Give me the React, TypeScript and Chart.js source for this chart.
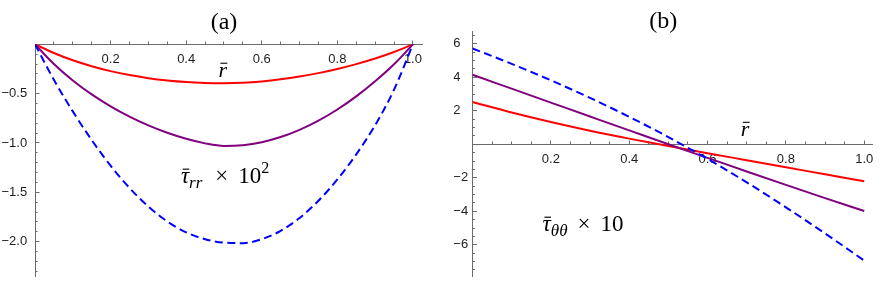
import React, { useEffect, useRef } from "react";
import { Chart, registerables } from "chart.js";

Chart.register(...registerables);

// ---------------- data ----------------
// panel (a): tau_rr x 10^2 versus r-bar
const R_A = [0, 0.05, 0.1, 0.15, 0.2, 0.25, 0.3, 0.35, 0.4, 0.45, 0.5, 0.55, 0.6, 0.65, 0.7, 0.75, 0.8, 0.85, 0.9, 0.95, 1.0];
const TRR_RED = [0, -0.088, -0.162, -0.222, -0.272, -0.312, -0.343, -0.366, -0.382, -0.391, -0.394, -0.389, -0.376, -0.355, -0.327, -0.292, -0.25, -0.201, -0.144, -0.078, 0];
const TRR_PURPLE = [0, -0.2, -0.367, -0.508, -0.629, -0.733, -0.822, -0.897, -0.958, -1.004, -1.03, -1.022, -0.992, -0.94, -0.867, -0.774, -0.661, -0.528, -0.375, -0.203, 0];
const TRR_BLUE = [0, -0.36, -0.68, -0.97, -1.23, -1.455, -1.645, -1.795, -1.905, -1.975, -2.01, -2.015, -1.975, -1.89, -1.76, -1.585, -1.37, -1.115, -0.82, -0.46, 0];

// panel (b): tau_thetatheta x 10 versus r-bar
const R_B = [0, 0.1, 0.2, 0.3, 0.4, 0.5, 0.6, 0.7, 0.8, 0.9, 1.0];
const TTT_RED = [2.52, 1.9, 1.33, 0.81, 0.34, -0.1, -0.53, -0.95, -1.37, -1.79, -2.21];
const TTT_PURPLE = [4.15, 3.32, 2.49, 1.66, 0.83, 0.0, -0.81, -1.62, -2.42, -3.21, -3.98];
const TTT_BLUE = [5.72, 4.8, 3.82, 2.77, 1.64, 0.43, -0.87, -2.27, -3.76, -5.32, -6.94];

// ticks
const X_MAJOR = [0.2, 0.4, 0.6, 0.8, 1.0];
const X_LABELS = ["0.2", "0.4", "0.6", "0.8", "1.0"];
const X_MINOR = [0.05, 0.1, 0.15, 0.25, 0.3, 0.35, 0.45, 0.5, 0.55, 0.65, 0.7, 0.75, 0.85, 0.9, 0.95];

const YA_MAJOR = [-0.5, -1.0, -1.5, -2.0];
const YA_LABELS = ["\u22120.5", "\u22121.0", "\u22121.5", "\u22122.0"];
const YA_MINOR = [-0.1, -0.2, -0.3, -0.4, -0.6, -0.7, -0.8, -0.9, -1.1, -1.2, -1.3, -1.4, -1.6, -1.7, -1.8, -1.9, -2.1, -2.2, -2.3];

const YB_MAJOR = [6, 4, 2, -2, -4, -6];
const YB_LABELS = ["6", "4", "2", "\u22122", "\u22124", "\u22126"];
const YB_MINOR = [6.5, 5.5, 5, 4.5, 3.5, 3, 2.5, 1.5, 1, 0.5, -0.5, -1, -1.5, -2.5, -3, -3.5, -4.5, -5, -5.5, -6.5, -7, -7.5];

// ---------------- styling ----------------
const RED = "#ff0000";
const PURPLE = "#800080";
const BLUE = "#0000ff";
const AXIS = "#6b6b6b";
const LABEL = "#1e1e1e";
const SERIF = "'Liberation Serif', 'Times New Roman', serif";
const SANS = "'Liberation Sans', Arial, sans-serif";

type Seg = { t: string; size: number; italic?: boolean; dy?: number; gap?: number; bar?: boolean };
type TextItem = { x: number; y: number; align: "left" | "center"; segs: Seg[] };

const segFont = (s: Seg) => `${s.italic ? "italic " : ""}${s.size}px ${SERIF}`;

function drawRich(ctx: CanvasRenderingContext2D, segs: Seg[], x: number, y: number, align: "left" | "center") {
  let total = 0;
  for (const s of segs) {
    ctx.font = segFont(s);
    total += (s.gap || 0) + ctx.measureText(s.t).width;
  }
  let cx = align === "center" ? x - total / 2 : x;
  for (const s of segs) {
    ctx.font = segFont(s);
    cx += s.gap || 0;
    const by = y + (s.dy || 0);
    ctx.fillText(s.t, cx, by);
    const w = ctx.measureText(s.t).width;
    if (s.bar) {
      // overbar (macron) above the glyph, shifted for the italic slant
      const top = by - s.size * 0.62;
      ctx.save();
      ctx.strokeStyle = ctx.fillStyle as string;
      ctx.lineWidth = Math.max(1, s.size * 0.05);
      ctx.beginPath();
      ctx.moveTo(cx + w * 0.22, top);
      ctx.lineTo(cx + w * 1.02, top);
      ctx.stroke();
      ctx.restore();
    }
    cx += w;
  }
}

const makeTextPlugin = (items: TextItem[]) => ({
  id: "panelText",
  afterDraw(chart: any) {
    const { ctx, scales } = chart;
    ctx.save();
    ctx.fillStyle = "#000";
    ctx.textBaseline = "alphabetic";
    ctx.textAlign = "left";
    for (const it of items) {
      const px = scales.x.getPixelForValue(it.x);
      const py = scales.y.getPixelForValue(it.y);
      drawRich(ctx, it.segs, px, py, it.align);
    }
    ctx.restore();
  },
});

type PanelCfg = {
  r: number[];
  series: { values: number[]; color: string; dash?: number[]; order: number }[];
  xMax: number;
  yMin: number;
  yMax: number;
  padding: { left: number; right: number; top: number; bottom: number };
  yAxisWidth: number;
  xLabelPad: number;
  yMajor: number[];
  yLabels: string[];
  yMinor: number[];
  texts: TextItem[];
};

function buildChart(canvas: HTMLCanvasElement, cfg: PanelCfg) {
  const tickFont = { family: SANS, size: 13 };
  const setTicks = (vals: number[]) => (scale: any) => {
    scale.ticks = vals.map((v) => ({ value: v }));
  };
  const gridMajor = { display: true, drawOnChartArea: false, drawTicks: true, tickLength: -4.5, tickColor: AXIS, tickWidth: 1 };
  const gridMinor = { display: true, drawOnChartArea: false, drawTicks: true, tickLength: -2.5, tickColor: AXIS, tickWidth: 1 };
  return new Chart(canvas, {
    type: "line",
    data: {
      datasets: cfg.series.map((s) => ({
        data: cfg.r.map((r, j) => ({ x: r, y: s.values[j] })),
        borderColor: s.color,
        borderWidth: 2,
        borderDash: s.dash || [],
        pointRadius: 0,
        cubicInterpolationMode: "monotone" as const,
        fill: false,
        order: s.order,
        xAxisID: "x",
        yAxisID: "y",
      })),
    },
    options: {
      animation: false,
      responsive: false,
      devicePixelRatio: 1,
      events: [],
      layout: { autoPadding: false, padding: cfg.padding },
      plugins: { legend: { display: false }, title: { display: false }, tooltip: { enabled: false } },
      scales: {
        x: {
          type: "linear",
          position: { y: 0 },
          min: 0,
          max: cfg.xMax,
          afterBuildTicks: setTicks(X_MAJOR),
          grid: gridMajor,
          border: { display: true, color: AXIS, width: 1 },
          ticks: {
            autoSkip: false,
            maxRotation: 0,
            minRotation: 0,
            padding: cfg.xLabelPad,
            color: LABEL,
            font: tickFont,
            callback: (_v: any, i: number) => X_LABELS[i],
          },
        },
        xMinor: {
          type: "linear",
          position: { y: 0 },
          min: 0,
          max: cfg.xMax,
          afterBuildTicks: setTicks(X_MINOR),
          grid: gridMinor,
          border: { display: false },
          ticks: { display: false, autoSkip: false },
        },
        y: {
          type: "linear",
          position: "left",
          weight: 1,
          min: cfg.yMin,
          max: cfg.yMax,
          afterBuildTicks: setTicks(cfg.yMajor),
          afterFit: (s: any) => {
            s.width = cfg.yAxisWidth;
          },
          grid: gridMajor,
          border: { display: true, color: AXIS, width: 1 },
          ticks: {
            autoSkip: false,
            crossAlign: "far",
            color: LABEL,
            font: tickFont,
            callback: (_v: any, i: number) => cfg.yLabels[i],
          },
        },
        yMinor: {
          type: "linear",
          position: "left",
          weight: 0,
          min: cfg.yMin,
          max: cfg.yMax,
          afterBuildTicks: setTicks(cfg.yMinor),
          afterFit: (s: any) => {
            s.width = 0;
          },
          grid: gridMinor,
          border: { display: false },
          ticks: { display: false, autoSkip: false },
        },
      },
    } as any,
    plugins: [makeTextPlugin(cfg.texts)],
  });
}

const PANEL_A: PanelCfg = {
  r: R_A,
  series: [
    { values: TRR_RED, color: RED, order: 3 },
    { values: TRR_PURPLE, color: PURPLE, order: 2 },
    { values: TRR_BLUE, color: BLUE, dash: [8, 4.5], order: 1 },
  ],
  xMax: 1.024,
  yMin: -2.35,
  yMax: 0,
  padding: { left: 1.5, right: 18, top: 44.3, bottom: 0 },
  yAxisWidth: 33.5,
  xLabelPad: 12,
  yMajor: YA_MAJOR,
  yLabels: YA_LABELS,
  yMinor: YA_MINOR,
  texts: [
    { x: 0.5, y: 0.158, align: "center", segs: [{ t: "(a)", size: 24 }] },
    { x: 0.497, y: -0.33, align: "center", segs: [{ t: "r", size: 22, italic: true, bar: true }] },
    {
      x: 0.386,
      y: -1.41,
      align: "left",
      segs: [
        { t: "\u03c4", size: 23, italic: true, bar: true },
        { t: "rr", size: 17, italic: true, dy: 5 },
        { t: "\u00d7", size: 23, gap: 13 },
        { t: "10", size: 23, gap: 10 },
        { t: "2", size: 16, dy: -10 },
      ],
    },
  ],
};

const PANEL_B: PanelCfg = {
  r: R_B,
  series: [
    { values: TTT_RED, color: RED, order: 3 },
    { values: TTT_PURPLE, color: PURPLE, order: 2 },
    { values: TTT_BLUE, color: BLUE, dash: [8, 4.5], order: 1 },
  ],
  xMax: 1.021,
  yMin: -7.87,
  yMax: 6.72,
  padding: { left: 13.3, right: 10.8, top: 31.7, bottom: 0 },
  yAxisWidth: 19.2,
  xLabelPad: 11.5,
  yMajor: YB_MAJOR,
  yLabels: YB_LABELS,
  yMinor: YB_MINOR,
  texts: [
    { x: 0.487, y: 6.93, align: "center", segs: [{ t: "(b)", size: 24 }] },
    { x: 0.696, y: 0.5, align: "center", segs: [{ t: "r", size: 22, italic: true, bar: true }] },
    {
      x: 0.179,
      y: -5.2,
      align: "left",
      segs: [
        { t: "\u03c4", size: 23, italic: true, bar: true },
        { t: "\u03b8\u03b8", size: 17, italic: true, dy: 5 },
        { t: "\u00d7", size: 23, gap: 10 },
        { t: "10", size: 23, gap: 10 },
      ],
    },
  ],
};

function Panel({ cfg, width, left }: { cfg: PanelCfg; width: number; left: number }) {
  const ref = useRef<HTMLCanvasElement | null>(null);
  useEffect(() => {
    if (!ref.current) return;
    const chart = buildChart(ref.current, cfg);
    return () => chart.destroy();
  }, [cfg]);
  return (
    <div style={{ position: "absolute", left, top: 0, width, height: 287 }}>
      <canvas ref={ref} width={width} height={287} style={{ display: "block", width, height: 287 }} />
    </div>
  );
}

export default function App() {
  return (
    <div style={{ position: "fixed", left: 0, top: 0, width: 885, height: 287, background: "#fff", overflow: "hidden" }}>
      <Panel cfg={PANEL_A} width={440} left={0} />
      <Panel cfg={PANEL_B} width={445} left={440} />
    </div>
  );
}
